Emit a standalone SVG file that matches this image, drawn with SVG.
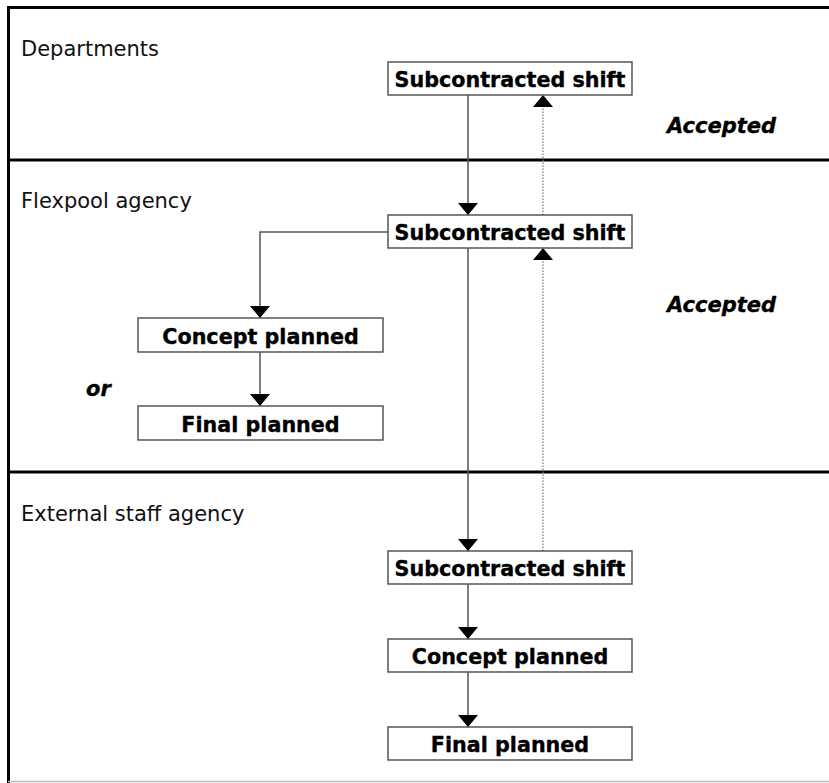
<svg xmlns="http://www.w3.org/2000/svg" width="829" height="783" viewBox="0 0 829 783">
<style>
.box{fill:#fff;stroke:#555;stroke-width:1.5}
.lbl{font-family:"DejaVu Sans",Verdana,sans-serif;font-size:20.7px;font-weight:bold;fill:#000;stroke:#000;stroke-width:0.35;text-anchor:middle}
.lane{font-family:"DejaVu Sans",Verdana,sans-serif;font-size:21px;fill:#111}
.note{font-family:"DejaVu Sans",Verdana,sans-serif;font-size:21px;font-weight:bold;font-style:italic;fill:#000;stroke:#000;stroke-width:0.35}
.sep{stroke:#000;stroke-width:3;fill:none}
.con{stroke:#555;stroke-width:1.5;fill:none}
.dot{stroke:#777;stroke-width:1.2;stroke-dasharray:1.5,1.5;fill:none}
</style>
<defs>
<marker id="ah" viewBox="0 0 12 20" refX="12" refY="10" markerWidth="12" markerHeight="20" markerUnits="userSpaceOnUse" orient="auto">
<path d="M0,0 L12,10 L0,20 Z" fill="#000"/>
</marker>
</defs>
<rect width="829" height="783" fill="#fff"/>
<g id="frame">
<line class="sep" x1="8.5" y1="7.5" x2="829" y2="7.5"/>
<line class="sep" x1="8.5" y1="6" x2="8.5" y2="783"/>
<line class="sep" x1="8" y1="160" x2="829" y2="160"/>
<line class="sep" x1="8" y1="472" x2="829" y2="472"/>
<line x1="8" y1="781.5" x2="829" y2="781.5" stroke="#bbb" stroke-width="1.5"/>
</g>
<g id="lanes">
<text class="lane" x="21" y="56">Departments</text>
<text class="lane" x="21" y="208">Flexpool agency</text>
<text class="lane" x="21" y="521">External staff agency</text>
</g>
<g id="connectors">
<line class="con" x1="468" y1="95" x2="468" y2="215" marker-end="url(#ah)"/>
<line class="dot" x1="543" y1="215" x2="543" y2="95" marker-end="url(#ah)"/>
<polyline class="con" points="388,232 260,232 260,318" marker-end="url(#ah)"/>
<line class="con" x1="260" y1="352" x2="260" y2="406" marker-end="url(#ah)"/>
<line class="con" x1="468" y1="248" x2="468" y2="551" marker-end="url(#ah)"/>
<line class="dot" x1="543" y1="551" x2="543" y2="248" marker-end="url(#ah)"/>
<line class="con" x1="468" y1="584" x2="468" y2="639" marker-end="url(#ah)"/>
<line class="con" x1="468" y1="672" x2="468" y2="727" marker-end="url(#ah)"/>
</g>
<g id="dept_sub">
<rect class="box" x="388" y="62" width="244" height="33"/>
<text class="lbl" x="510" y="87">Subcontracted shift</text>
</g>
<g id="flex_sub">
<rect class="box" x="388" y="215" width="244" height="33"/>
<text class="lbl" x="510" y="240">Subcontracted shift</text>
</g>
<g id="flex_concept">
<rect class="box" x="138" y="318" width="245" height="34"/>
<text class="lbl" x="260.5" y="344">Concept planned</text>
</g>
<g id="flex_final">
<rect class="box" x="138" y="406" width="245" height="34"/>
<text class="lbl" x="260.5" y="432">Final planned</text>
</g>
<g id="ext_sub">
<rect class="box" x="388" y="551" width="244" height="33"/>
<text class="lbl" x="510" y="576">Subcontracted shift</text>
</g>
<g id="ext_concept">
<rect class="box" x="388" y="639" width="244" height="33"/>
<text class="lbl" x="510" y="664">Concept planned</text>
</g>
<g id="ext_final">
<rect class="box" x="388" y="727" width="244" height="33"/>
<text class="lbl" x="510" y="752">Final planned</text>
</g>
<g id="notes">
<text class="note" x="667" y="133">Accepted</text>
<text class="note" x="667" y="312">Accepted</text>
<text class="note" x="86" y="396">or</text>
</g>
</svg>
